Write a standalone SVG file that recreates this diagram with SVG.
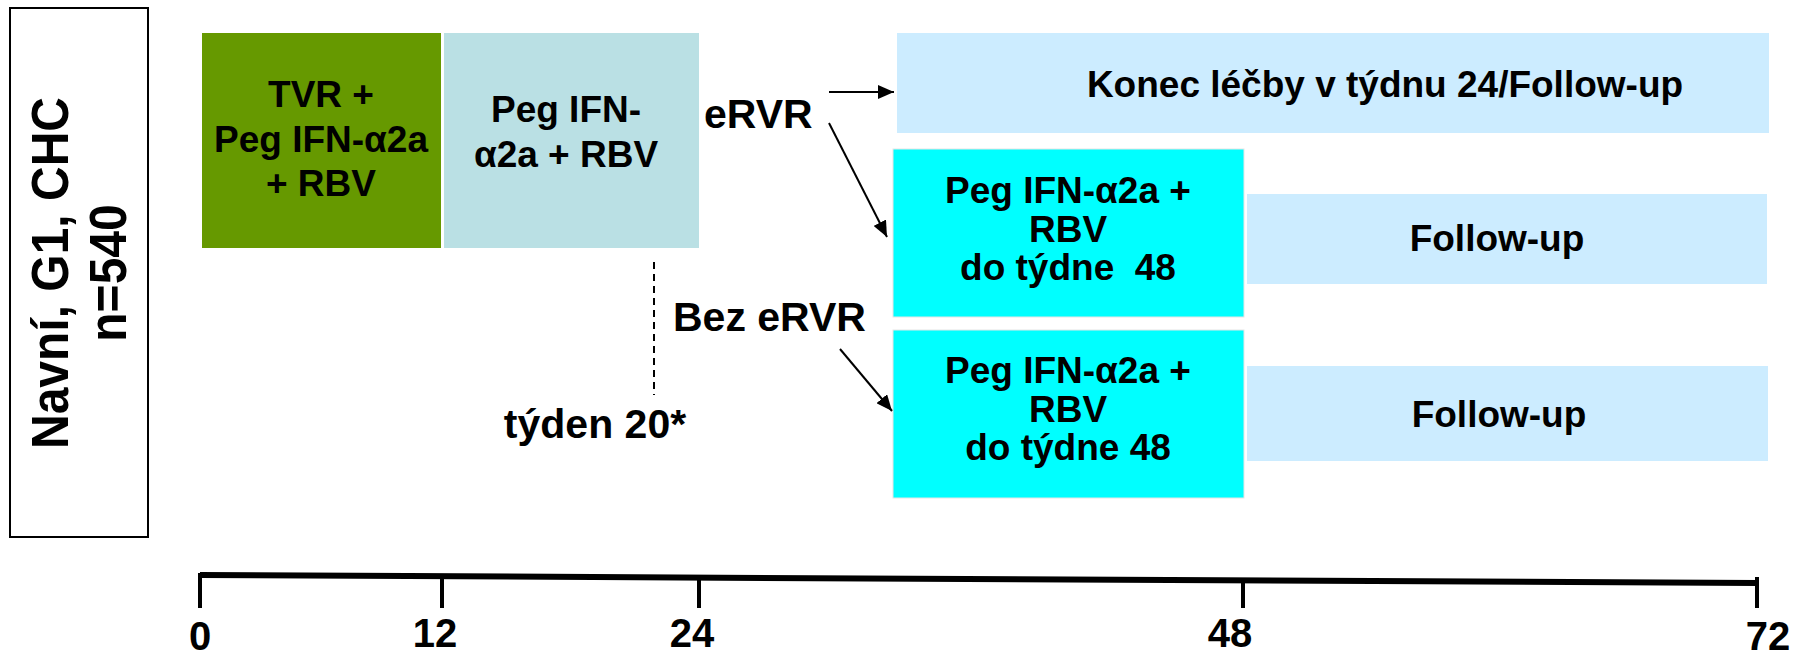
<svg xmlns="http://www.w3.org/2000/svg" width="1800" height="660" viewBox="0 0 1800 660">
<defs>
<style>
text{font-family:"Liberation Sans",Arial,sans-serif;font-weight:bold;fill:#000;white-space:pre}
.bt{font-size:37px;text-anchor:middle}
.lb{font-size:41px}
.ax{font-size:40px;text-anchor:middle}
.con{stroke:#000;stroke-width:2;fill:none}
.tick{stroke:#000;stroke-width:4;fill:none}
</style>
<marker id="ah" markerUnits="userSpaceOnUse" markerWidth="16" markerHeight="14" refX="16" refY="7" orient="auto">
<path d="M0,0 L16,7 L0,14 z" fill="#000"/>
</marker>
</defs>
<rect width="1800" height="660" fill="#fff"/>

<g id="population">
<rect x="10" y="8" width="138" height="529" fill="#fff" stroke="#000" stroke-width="2"/>
<text transform="translate(68,273) rotate(-90) scale(1,1.08)" style="font-size:48px" text-anchor="middle">Navní, G1, CHC</text>
<text transform="translate(126,273) rotate(-90) scale(1,1.08)" style="font-size:48px" text-anchor="middle">n=540</text>
</g>

<g id="tvr">
<rect x="202" y="33" width="239" height="215" fill="#669900"/>
<text class="bt" x="321" y="107">TVR +</text>
<text class="bt" x="321" y="152">Peg IFN-α2a</text>
<text class="bt" x="321" y="196">+ RBV</text>
</g>

<g id="pegrbv">
<rect x="444" y="33" width="255" height="215" fill="#BAE0E4"/>
<text class="bt" x="566" y="122">Peg IFN-</text>
<text class="bt" x="566" y="167">α2a + RBV</text>
</g>

<g id="konec">
<rect x="897" y="33" width="872" height="100" fill="#CCECFF"/>
<text class="bt" x="1385" y="97">Konec léčby v týdnu 24/Follow-up</text>
</g>

<g id="peg48a">
<rect x="893" y="149" width="351" height="168" fill="#00FFFF" stroke="#E6E6E6" stroke-width="1"/>
<text class="bt" x="1068" y="203">Peg IFN-α2a +</text>
<text class="bt" x="1068" y="242">RBV</text>
<text class="bt" x="1068" y="280">do týdne  48</text>
</g>

<g id="follow1">
<rect x="1247" y="194" width="520" height="90" fill="#CCECFF"/>
<text class="bt" x="1497" y="251">Follow-up</text>
</g>

<g id="peg48b">
<rect x="893" y="330" width="351" height="168" fill="#00FFFF" stroke="#E6E6E6" stroke-width="1"/>
<text class="bt" x="1068" y="383">Peg IFN-α2a +</text>
<text class="bt" x="1068" y="422">RBV</text>
<text class="bt" x="1068" y="460">do týdne 48</text>
</g>

<g id="follow2">
<rect x="1247" y="366" width="521" height="95" fill="#CCECFF"/>
<text class="bt" x="1499" y="427">Follow-up</text>
</g>

<g id="labels">
<text class="lb" x="704" y="128">eRVR</text>
<text class="lb" x="673" y="331">Bez eRVR</text>
<text class="lb" x="595" y="438" text-anchor="middle">týden 20*</text>
</g>

<g id="connectors">
<line class="con" x1="829" y1="92" x2="894" y2="92" marker-end="url(#ah)"/>
<line class="con" x1="829" y1="123" x2="887" y2="237" marker-end="url(#ah)"/>
<line class="con" x1="840" y1="349" x2="892" y2="411" marker-end="url(#ah)"/>
<line x1="654" y1="262" x2="654" y2="395" stroke="#000" stroke-width="2" stroke-dasharray="7,5"/>
</g>

<g id="axis">
<line x1="200" y1="575" x2="1757" y2="583" stroke="#000" stroke-width="6"/>
<line class="tick" x1="200" y1="573" x2="200" y2="608"/>
<line class="tick" x1="442" y1="577" x2="442" y2="608"/>
<line class="tick" x1="699" y1="578" x2="699" y2="608"/>
<line class="tick" x1="1243" y1="580" x2="1243" y2="608"/>
<line class="tick" x1="1757" y1="577" x2="1757" y2="608"/>
<text class="ax" x="200" y="650">0</text>
<text class="ax" x="435" y="647">12</text>
<text class="ax" x="692" y="647">24</text>
<text class="ax" x="1230" y="647">48</text>
<text class="ax" x="1768" y="650">72</text>
</g>
</svg>
